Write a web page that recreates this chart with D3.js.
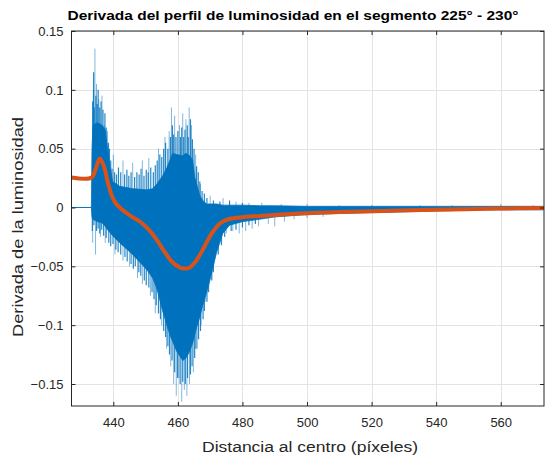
<!DOCTYPE html>
<html><head><meta charset="utf-8">
<script src="https://cdn.jsdelivr.net/npm/d3@7"></script>
<style>body{margin:0;background:#fff}svg{display:block;font-family:"Liberation Sans",Arial,sans-serif}</style>
</head><body>
<script>
// ---- data ----
const title = "Derivada del perfil de luminosidad en el segmento 225° - 230°";
const xLabel = "Distancia al centro (píxeles)";
const yLabel = "Derivada de la luminosidad";
const xTicks = [440, 460, 480, 500, 520, 540, 560];
const yTicks = [0.15, 0.1, 0.05, 0, -0.05, -0.1, -0.15];

// blue signal: dense core band (upper / lower envelope)
const coreX  = [427, 433.2, 433.4, 433.7, 435, 436.5, 437.5, 438.2, 438.9, 439.8, 442, 446, 450.4, 452.2, 453.5, 455.3, 456.6, 457.5, 458.4, 459.6, 461.5, 462.5, 463.7, 464.6, 465.2, 465.8, 466.8, 467.7, 468.9, 469.9, 472, 473.9, 476, 480.1, 485.3, 490, 500, 510, 525, 540, 555, 573.5];
const coreHi = [0, 0, 0.05, 0.07, 0.072, 0.07, 0.066, 0.05, 0.036, 0.022, 0.018, 0.016, 0.015, 0.016, 0.02, 0.027, 0.034, 0.04, 0.046, 0.045, 0.044, 0.046, 0.044, 0.04, 0.026, 0.02, 0.01, 0.006, 0.003, 0.003, 0.003, 0.002, 0.002, 0.002, 0.0015, 0.0015, 0.001, 0.001, 0.001, 0.001, 0.001, 0.001];
const coreLo = [0, 0, -0.008, -0.01, -0.012, -0.013, -0.016, -0.019, -0.021, -0.024, -0.03, -0.04, -0.053, -0.06, -0.069, -0.088, -0.1, -0.108, -0.114, -0.122, -0.13, -0.128, -0.122, -0.115, -0.108, -0.102, -0.093, -0.083, -0.072, -0.062, -0.038, -0.022, -0.015, -0.012, -0.01, -0.008, -0.006, -0.005, -0.004, -0.003, -0.002, -0.002];

// blue signal: jagged excursions at the edge of the core band
const edgeX = [433.6, 433.9, 434.1, 434.6, 435.0, 435.3, 435.8, 436.2, 436.8, 437.4, 437.8, 438.5, 438.8, 439.2, 439.6, 440.4, 441, 441.6, 442.3, 443.5, 444.2, 444.8, 445.5, 446.6, 447.3, 448, 448.6, 449.5, 450.2, 450.8, 451.6, 452.4, 453, 453.6, 454.4, 455, 455.6, 456.2, 456.9, 457.7, 458.3, 458.7, 459.4, 460, 460.8, 461.2, 461.8, 462.2, 462.9, 463.2, 463.9, 464.5, 465, 465.8, 466.3, 466.8, 467.5, 468.2, 469, 471, 473, 476, 480,
               433.5, 434, 434.8, 435.3, 435.8, 436.4, 437, 437.8, 438.6, 439.2, 439.9, 440.8, 441.5, 442.3, 443.6, 444.3, 445.5, 446.2, 446.8, 447.9, 448.5, 449.6, 450.2, 451, 452, 452.6, 453.3, 454, 454.6, 455.6, 456.2, 456.9, 457.4, 458.2, 459, 459.9, 460.7, 461.5, 462.3, 463, 463.9, 464.4, 465.2, 465.6, 466.4, 467, 467.8, 468.2, 469, 469.5, 470.5, 471, 472.5, 473.5, 474.5, 476.5, 478, 480, 482, 484];
const edgeY = [0.09, 0.115, 0.085, 0.095, 0.088, 0.1, 0.085, 0.09, 0.083, 0.08, 0.068, 0.055, 0.05, 0.04, 0.033, 0.03, 0.028, 0.034, 0.03, 0.028, 0.032, 0.027, 0.03, 0.026, 0.03, 0.028, 0.033, 0.027, 0.032, 0.03, 0.034, 0.03, 0.036, 0.04, 0.045, 0.043, 0.05, 0.055, 0.05, 0.06, 0.07, 0.062, 0.06, 0.065, 0.06, 0.068, 0.06, 0.066, 0.07, 0.06, 0.075, 0.058, 0.05, 0.035, 0.03, 0.022, 0.014, 0.012, 0.008, 0.006, 0.005, 0.006, 0.004,
               -0.02, -0.015, -0.02, -0.018, -0.022, -0.019, -0.024, -0.026, -0.03, -0.033, -0.031, -0.036, -0.038, -0.04, -0.042, -0.046, -0.048, -0.052, -0.05, -0.055, -0.058, -0.062, -0.066, -0.068, -0.072, -0.078, -0.083, -0.09, -0.095, -0.105, -0.11, -0.118, -0.125, -0.13, -0.14, -0.145, -0.15, -0.148, -0.15, -0.145, -0.142, -0.135, -0.128, -0.12, -0.112, -0.105, -0.095, -0.088, -0.08, -0.072, -0.062, -0.055, -0.04, -0.032, -0.025, -0.02, -0.019, -0.017, -0.015, -0.014];

// blue signal: isolated outer spikes
const spikeX = [434.3, 433.8, 434.8, 435.5, 436.5, 437.2, 438.2, 440, 443, 446, 449, 451, 454, 456, 457.3, 458, 459, 460.5, 461.5, 462.5, 463.5, 464.2, 465.5, 467, 470, 474, 478, 482, 486, 492, 500, 510, 520, 535, 545, 560, 570,
                433.6, 434.5, 436, 437.5, 440.5, 443, 445, 447.5, 449, 451.5, 453, 455, 456.5, 457.8, 458.7, 459.5, 460.3, 461.2, 462.0, 462.8, 463.6, 464.8, 466, 467.2, 468.5, 470, 471.5, 473, 475, 477, 479, 481, 483, 485, 488, 490, 493, 496, 500, 505];
const spikeY = [0.135, 0.10, 0.105, 0.092, 0.095, 0.07, 0.065, 0.045, 0.04, 0.038, 0.04, 0.042, 0.05, 0.06, 0.065, 0.085, 0.078, 0.07, 0.08, 0.075, 0.085, 0.07, 0.045, 0.02, 0.01, 0.008, 0.005, 0.004, 0.004, 0.003, 0.003, 0.002, 0.002, 0.002, 0.002, 0.003, 0.002,
                -0.03, -0.04, -0.025, -0.03, -0.04, -0.045, -0.05, -0.06, -0.065, -0.075, -0.09, -0.1, -0.12, -0.135, -0.15, -0.16, -0.145, -0.165, -0.155, -0.16, -0.15, -0.14, -0.12, -0.1, -0.08, -0.055, -0.04, -0.03, -0.022, -0.02, -0.022, -0.02, -0.018, -0.016, -0.014, -0.016, -0.012, -0.01, -0.009, -0.008];

// orange smoothed curve
const smoothX = [427, 433.3, 434.6, 435.8, 437.1, 438.3, 439.5, 440.8, 442.0, 443.9, 445.7, 448.2, 450.7, 453.2, 455.6, 458.1, 460.6, 461.8, 463.7, 465.5, 467.4, 469.2, 471.1, 473.0, 475.4, 479.2, 485.3, 497.7, 510.1, 528.7, 544.2, 559.6, 573.5];
const smoothY = [0.0255, 0.0255, 0.0332, 0.0417, 0.0349, 0.0213, 0.0102, 0.0034, 0, -0.0043, -0.0077, -0.0119, -0.0179, -0.0264, -0.0366, -0.0459, -0.051, -0.0519, -0.051, -0.0459, -0.0374, -0.028, -0.0196, -0.0136, -0.0102, -0.0085, -0.0072, -0.0051, -0.0038, -0.0026, -0.0017, -0.0009, -0.0004];

// ---- drawing ----
const W = 545, H = 457;
const m = {left: 71.5, top: 31, right: 544, bottom: 406};
const x = d3.scaleLinear().domain([427.05, 573.4]).range([m.left, m.right]);
const y = d3.scaleLinear().domain([-0.1687, 0.15]).range([m.bottom, m.top]);
const svg = d3.select("body").append("svg").attr("width", W).attr("height", H);

svg.append("defs").append("clipPath").attr("id", "clip").append("rect")
  .attr("x", m.left).attr("y", m.top).attr("width", m.right - m.left).attr("height", m.bottom - m.top);

// grid
const grid = svg.append("g").attr("stroke", "#e3e3e3").attr("stroke-width", 1);
grid.selectAll(".gx").data(xTicks).join("line")
  .attr("x1", d => Math.round(x(d)) + 0.5).attr("x2", d => Math.round(x(d)) + 0.5)
  .attr("y1", m.top).attr("y2", m.bottom);
grid.selectAll(".gy").data(yTicks).join("line")
  .attr("y1", d => Math.round(y(d)) + 0.5).attr("y2", d => Math.round(y(d)) + 0.5)
  .attr("x1", m.left).attr("x2", m.right);

const plot = svg.append("g").attr("clip-path", "url(#clip)");
const blue = "#0072BD";

// outer spikes (lighter)
const spikes = spikeX.map((d, i) => ({x: d, y: spikeY[i]}));
plot.selectAll(".sp").data(spikes).join("line")
  .attr("x1", d => x(d.x)).attr("x2", d => x(d.x))
  .attr("y1", y(0)).attr("y2", d => y(d.y))
  .attr("stroke", blue).attr("stroke-opacity", 0.5).attr("stroke-width", 1);

// edge excursions
const edges = edgeX.map((d, i) => ({x: d, y: edgeY[i]}));
plot.selectAll(".ed").data(edges).join("line")
  .attr("x1", d => x(d.x)).attr("x2", d => x(d.x))
  .attr("y1", y(0)).attr("y2", d => y(d.y))
  .attr("stroke", blue).attr("stroke-opacity", 0.85).attr("stroke-width", 1.2);

// core band
const coreData = coreX.map((d, i) => ({x: d, hi: coreHi[i], lo: coreLo[i]}));
plot.append("path").datum(coreData)
  .attr("fill", blue).attr("stroke", blue).attr("stroke-width", 0.8)
  .attr("d", d3.area().x(d => x(d.x)).y0(d => y(d.lo)).y1(d => y(d.hi)));

// orange smooth
const smooth = smoothX.map((d, i) => [d, smoothY[i]]);
plot.append("path").datum(smooth)
  .attr("fill", "none").attr("stroke", "#D95319").attr("stroke-width", 4)
  .attr("stroke-linejoin", "round")
  .attr("d", d3.line().x(d => x(d[0])).y(d => y(d[1])).curve(d3.curveCatmullRom.alpha(0.5)));

// axes box
const ax = "#262626";
svg.append("rect").attr("x", m.left).attr("y", m.top).attr("width", m.right - m.left).attr("height", m.bottom - m.top)
  .attr("fill", "none").attr("stroke", ax).attr("stroke-width", 1);

const xAxis = d3.axisBottom(x).tickValues(xTicks).tickSize(-4).tickFormat(d3.format("d"));
const gx = svg.append("g").attr("transform", `translate(0,${m.bottom})`).call(xAxis);
gx.select(".domain").remove();
gx.selectAll("line").attr("stroke", ax);
gx.selectAll("text").attr("fill", ax).attr("font-size", 13).attr("dy", "1.05em").attr("y", 7);
const gxt = svg.append("g").attr("transform", `translate(0,${m.top})`).call(d3.axisTop(x).tickValues(xTicks).tickSize(-4).tickFormat(""));
gxt.select(".domain").remove(); gxt.selectAll("line").attr("stroke", ax);

const yAxis = d3.axisLeft(y).tickValues(yTicks).tickSize(-4).tickFormat(d => d === 0 ? "0" : d3.format("")(+d.toFixed(2)));
const gy = svg.append("g").attr("transform", `translate(${m.left},0)`).call(yAxis);
gy.select(".domain").remove();
gy.selectAll("line").attr("stroke", ax);
gy.selectAll("text").attr("fill", ax).attr("font-size", 13).attr("x", -8);
const gyr = svg.append("g").attr("transform", `translate(${m.right},0)`).call(d3.axisRight(y).tickValues(yTicks).tickSize(-4).tickFormat(""));
gyr.select(".domain").remove(); gyr.selectAll("line").attr("stroke", ax);

// labels
svg.append("text").attr("x", 293).attr("y", 20).attr("text-anchor", "middle")
  .attr("font-size", 13.5).attr("font-weight", "bold").attr("fill", "#000")
  .attr("textLength", 451).attr("lengthAdjust", "spacingAndGlyphs").text(title);
svg.append("text").attr("x", 310).attr("y", 452).attr("text-anchor", "middle")
  .attr("font-size", 15.5).attr("fill", ax)
  .attr("textLength", 216).attr("lengthAdjust", "spacingAndGlyphs").text(xLabel);
svg.append("text").attr("transform", "translate(23,227) rotate(-90)").attr("text-anchor", "middle")
  .attr("font-size", 15.5).attr("fill", ax)
  .attr("textLength", 220).attr("lengthAdjust", "spacingAndGlyphs").text(yLabel);
</script>
</body></html>
